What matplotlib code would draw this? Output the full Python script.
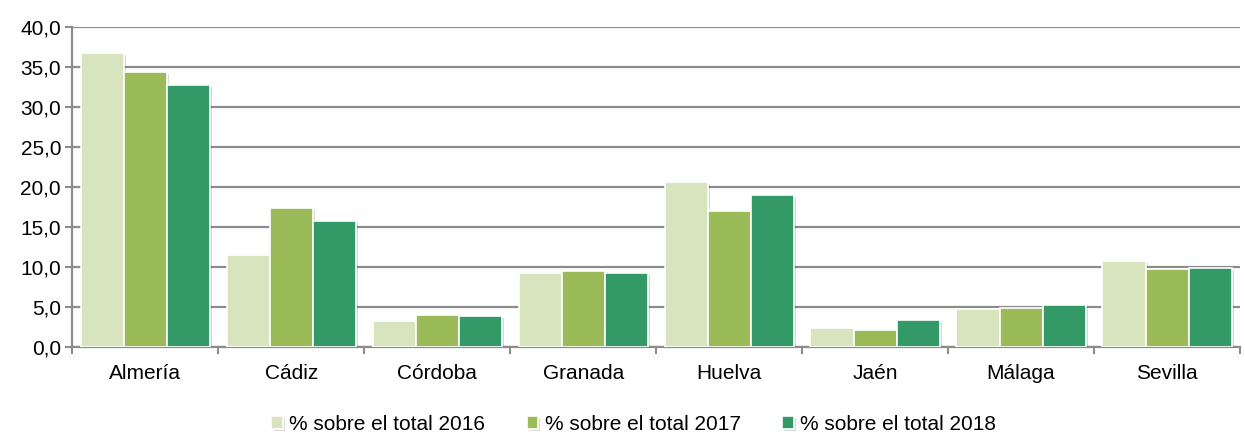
import numpy as np
import matplotlib
matplotlib.use("Agg")
from matplotlib import pyplot as plt
from matplotlib import patheffects as pe
from matplotlib.ticker import FuncFormatter

# Data
provincias = ["Almería", "Cádiz", "Córdoba", "Granada", "Huelva", "Jaén", "Málaga", "Sevilla"]
total_2016 = [36.7, 11.5, 3.3, 9.2, 20.6, 2.4, 4.8, 10.7]
total_2017 = [34.4, 17.4, 4.0, 9.5, 17.0, 2.1, 4.9, 9.8]
total_2018 = [32.7, 15.7, 3.9, 9.2, 19.0, 3.4, 5.2, 9.9]
series_labels = ["% sobre el total 2016", "% sobre el total 2017", "% sobre el total 2018"]
colors = ["#d7e4bd", "#9bbb59", "#339966"]

plt.rcParams['font.family'] = ['Liberation Sans', 'DejaVu Sans']

fig = plt.figure(figsize=(12.45, 4.32), dpi=100)
ax = fig.add_axes([0.058, 0.197, 0.938, 0.7405])

x = np.arange(len(provincias))
w = 0.295
shadow = [pe.SimplePatchShadow(offset=(1.5, -1.5), alpha=0.18), pe.Normal()]
for i, (vals, lab, c) in enumerate(zip([total_2016, total_2017, total_2018], series_labels, colors)):
    bars = ax.bar(x + (i - 1) * w, vals, w, color=c, edgecolor="white", linewidth=1.2,
                  label=lab, zorder=3)
    for b in bars:
        b.set_path_effects(shadow)

ax.set_xlim(-0.5, len(provincias) - 0.5)
ax.set_ylim(0, 40)
ax.set_yticks(np.arange(0, 41, 5))
ax.yaxis.set_major_formatter(FuncFormatter(lambda v, p: f"{v:.1f}".replace(".", ",")))
ax.grid(axis="y", color="#8c8c8c", linewidth=1.6, zorder=0)
ax.set_axisbelow(True)

# category labels centered, tick marks between groups
ax.set_xticks(x)
ax.set_xticklabels(provincias)
ax.tick_params(axis="x", length=0, labelsize=15, pad=12)
ax.set_xticks(np.arange(-0.5, len(provincias), 1), minor=True)
ax.tick_params(axis="x", which="minor", length=5, width=1.5, color="#8c8c8c")
ax.tick_params(axis="y", length=5, width=1.5, color="#8c8c8c", labelsize=15, pad=3)

for s in ["top", "right"]:
    ax.spines[s].set_visible(False)
for s in ["left", "bottom"]:
    ax.spines[s].set_color("#8c8c8c")
    ax.spines[s].set_linewidth(1.6)

fig.legend(loc="lower center", bbox_to_anchor=(0.509, -0.048), ncol=3, frameon=False,
           fontsize=15, handlelength=0.55, handleheight=0.55, handletextpad=0.3,
           columnspacing=2.0)

fig.savefig("out.png", dpi=100)
